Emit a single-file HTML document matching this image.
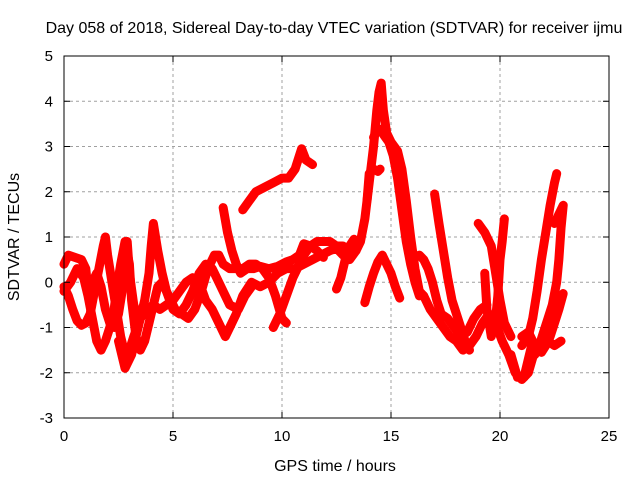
<!DOCTYPE html>
<html><head><meta charset="utf-8"><style>
body{margin:0;background:#fff}
svg text{font-family:"Liberation Sans",sans-serif;font-size:15px;fill:#000}
svg text.big{font-size:16px}
</style></head><body>
<svg id="c" width="640" height="480">
<text class="big" x="334" y="33" text-anchor="middle">Day 058 of 2018, Sidereal Day-to-day VTEC variation (SDTVAR) for receiver ijmu</text>
<text class="big" x="335" y="471" text-anchor="middle">GPS time / hours</text>
<text class="big" transform="translate(19,237) rotate(-90)" text-anchor="middle">SDTVAR / TECUs</text>
<g id="grid"></g><g id="marks"></g><g id="axes"></g>
</svg>
<script>
const xTicks=[0,5,10,15,20,25];
const yTicks=[-3,-2,-1,0,1,2,3,4,5];
const track1="0 -0.1,0.2 -0.3,0.4 -0.6,0.6 -0.85,0.8 -0.95,1.0 -0.9,1.2 -0.7,1.4 -0.2,1.6 0.3,1.8 0.8,1.9 1.0,2.0 0.6,2.2 0,2.4 -0.6,2.6 -1.2,2.8 -1.6,3.0 -1.5,3.2 -1.2,3.5 -0.8,3.8 -0.6,4.1 -0.5,4.4 -0.6,4.7 -0.5,5.0 -0.4,5.3 -0.2,5.6 0,5.9 0.1,6.2 0,6.5 -0.4,6.8 -0.6,7.1 -0.9,7.4 -1.2,7.6 -1.0,7.9 -0.7,8.2 -0.3,8.6 0,9.0 -0.1,9.4 0,9.8 0.2,10.2 0.3,10.6 0.3,11.0 0.4,11.4 0.5,11.8 0.6,12.2 0.7,12.5 0.75,12.8 0.6,13.1 0.5,13.4 0.7";
const track2="0 0.4,0.2 0.6,0.5 0.55,0.8 0.5,1.0 0.3,1.1 -0.2,1.3 0,1.5 0.2,1.7 -0.1,1.9 -0.6,2.1 -0.9,2.3 -1.0,2.5 -0.7,2.7 -0.1,2.8 0.5,2.9 0.9,3.0 0.2,3.2 -0.5,3.4 -0.8,3.6 -0.7";
const track3="0 -0.2,0.3 0,0.6 0.3,0.9 0.1,1.1 -0.3,1.3 -0.8,1.5 -1.3,1.7 -1.5,1.9 -1.3,2.1 -1.0,2.3 -0.6,2.4 -0.2,2.6 0.4,2.8 0.9,3.0 0.4,3.1 -0.4,3.3 -1.2,3.5 -1.5,3.7 -1.3,3.9 -0.9,4.1 -0.5,4.3 -0.1,4.5 0,4.8 -0.3,5.1 -0.6,5.4 -0.7,5.7 -0.8,6.0 -0.6,6.3 -0.2,6.6 0.3,6.9 0.6,7.1 0.6,7.3 0.4,7.6 0.3,7.9 0.3,8.2 0.3,8.5 0.4,8.8 0.4,9.1 0.3,9.4 0.1,9.7 -0.3,10.0 -0.8,10.2 -0.9";
const track4="2.5 -1.3,2.8 -1.9,3.1 -1.6,3.4 -1.0,3.7 -0.4,3.9 0.2,4.0 0.8,4.1 1.3,4.3 0.7,4.5 0.2,4.7 -0.2,5.0 -0.6,5.3 -0.7,5.6 -0.5,5.9 -0.2,6.2 0.2,6.5 0.4,6.8 0.3,7.0 0.1,7.3 -0.2,7.6 -0.5,8.0 -0.6,8.3 -0.3,8.6 -0.1";
const track5="7.3 1.65,7.5 1.1,7.7 0.7,7.9 0.4,8.1 0.2,8.4 0.3,8.7 0.3,9.0 0.35,9.4 0.3,9.8 0.35,10.2 0.45,10.5 0.5,10.8 0.6,11.0 0.85,11.3 0.8,11.6 0.7,11.9 0.55";
const track6="9.6 -1.0,9.9 -0.7,10.2 -0.3,10.5 0.1,10.8 0.4,11.0 0.6,11.3 0.8,11.6 0.9,11.9 0.9,12.2 0.9,12.5 0.8,12.8 0.8,13.0 0.7";
const track7="12.5 -0.15,12.7 0.1,12.9 0.5,13.1 0.8,13.3 0.95";
const track8="8.2 1.6,8.5 1.8,8.8 2.0,9.2 2.1,9.6 2.2,10.0 2.3,10.3 2.3,10.6 2.5,10.8 2.8,10.9 2.95,11.1 2.7,11.4 2.6";
const peakA="13.4 0.7,13.6 0.9,13.8 1.4,14.0 2.2,14.2 3.0,14.35 3.8,14.45 4.2,14.55 4.4,14.65 3.8,14.8 3.3,15.0 3.1,15.3 2.9,15.5 2.5,15.7 1.8,15.9 1.0,16.1 0.3,16.3 -0.2,16.5 -0.3";
const peakB="13.9 1.8,14.0 2.4,14.2 2.5,14.4 2.45,14.5 2.5";
const peakC="14.2 3.2,14.4 3.4,14.6 3.3,14.9 3.1,15.1 2.8,15.3 2.3,15.5 1.6,15.7 0.9,15.9 0.4,16.1 0.0,16.3 -0.3";
const hump="13.8 -0.45,14.0 -0.1,14.2 0.2,14.4 0.45,14.6 0.6,14.8 0.4,15.0 0.2,15.2 -0.1,15.4 -0.35";
const right1="16.5 -0.3,16.8 -0.6,17.1 -0.8,17.4 -1.0,17.7 -1.2,18.0 -1.3,18.3 -1.5,18.6 -1.4,18.9 -1.2,19.2 -0.9,19.5 -0.7,19.8 -0.9,20.1 -1.3,20.4 -1.6,20.7 -2.0,21.0 -2.15,21.3 -2.0,21.6 -1.5,21.9 -1.3,22.2 -1.3,22.5 -1.4,22.8 -1.3";
const right2="17.0 1.95,17.2 1.3,17.4 0.7,17.6 0.1,17.8 -0.4,18.0 -0.7,18.2 -1.0,18.4 -1.3,18.6 -1.5";
const right3="16.3 0.6,16.5 0.5,16.7 0.3,16.9 0,17.1 -0.4,17.3 -0.7,17.6 -0.8,17.9 -1.0,18.2 -1.2,18.5 -1.1,18.8 -0.8,19.1 -0.6,19.4 -0.5";
const right4="19.0 1.3,19.3 1.1,19.6 0.8,19.8 0.2,20.0 -0.4,20.2 -0.9,20.5 -1.2";
const right5="20.2 1.4,20.1 0.9,20.0 0.5,19.9 -0.3,19.8 -0.8,19.6 -1.2,19.4 -0.6,19.3 0.2";
const right6="21.0 -1.4,21.3 -1.2,21.5 -0.8,21.7 -0.2,21.9 0.5,22.1 1.1,22.3 1.7,22.5 2.2,22.6 2.4";
const right7="22.5 1.3,22.7 1.5,22.9 1.7,22.8 1.2,22.7 0.5,22.6 0.0,22.4 -0.5,22.2 -0.8,22.0 -1.1,21.8 -1.4,21.6 -1.6";
const right8="22.9 -0.25,22.7 -0.6,22.5 -0.9,22.3 -1.2,22.1 -1.4,21.9 -1.55";
const right9="20.5 -1.6,20.8 -2.1,21.1 -2.1,21.3 -1.7,21.5 -1.3,21.3 -1.1,21.0 -1.2";
const series=[track1,track2,track3,track4,track5,track6,track7,track8,peakA,peakB,peakC,hump,right1,right2,right3,right4,right5,right6,right7,right8,right9];
const X0=64,X1=609,Y0=418,Y1=56;
const xs=t=>X0+(t-0)/(25-0)*(X1-X0);
const ys=v=>Y0-(v+3)/(8)*(Y0-Y1);
const NS="http://www.w3.org/2000/svg";
function mk(tag,attrs,parent){const e=document.createElementNS(NS,tag);for(const k in attrs)e.setAttribute(k,attrs[k]);parent.appendChild(e);return e;}
const grid=document.getElementById('grid'),axes=document.getElementById('axes'),marks=document.getElementById('marks');
xTicks.forEach(t=>{
 const x=xs(t);
 if(t>0&&t<25){const g=mk('line',{x1:x,x2:x,y1:Y1,y2:Y0,stroke:'#a0a0a0','stroke-dasharray':'3,3'},grid);
 
 }
 mk('line',{x1:x,x2:x,y1:Y0,y2:Y0-6,stroke:'#000'},axes);
 mk('line',{x1:x,x2:x,y1:Y1,y2:Y1+6,stroke:'#000'},axes);
 const l=mk('text',{x:x,y:Y0+23,'text-anchor':'middle'},axes);l.textContent=t;
 
 
});
yTicks.forEach(v=>{
 const y=ys(v);
 if(v>-3&&v<5){const g=mk('line',{x1:X0,x2:X1,y1:y,y2:y,stroke:'#a0a0a0','stroke-dasharray':'3,3'},grid);
 
 }
 mk('line',{x1:X0,x2:X0+6,y1:y,y2:y,stroke:'#000'},axes);
 mk('line',{x1:X1,x2:X1-6,y1:y,y2:y,stroke:'#000'},axes);
 const l=mk('text',{x:X0-11,y:y+5,'text-anchor':'end'},axes);l.textContent=v;
 
 
});
const fr=mk('rect',{x:X0,y:Y1,width:X1-X0,height:Y0-Y1,fill:'none',stroke:'#000'},axes);


series.forEach((s,i)=>{
 const pts=s.split(',').map(p=>p.trim().split(/\s+/).map(Number));
 const poly=mk('polyline',{points:pts.map(p=>xs(p[0])+','+ys(p[1])).join(' '),fill:'none',stroke:'#f00','stroke-width':9,'stroke-linejoin':'round','stroke-linecap':'round'},marks);
 
 
 let d='';
 pts.forEach(p=>{const x=xs(p[0]),y=ys(p[1]);d+=`M${x-4},${y}h8M${x},${y-4}v8`;});
 const m=mk('path',{d:d,stroke:'#f00','stroke-width':1.2,fill:'none'},marks);
 
 
});
</script>
</body></html>
